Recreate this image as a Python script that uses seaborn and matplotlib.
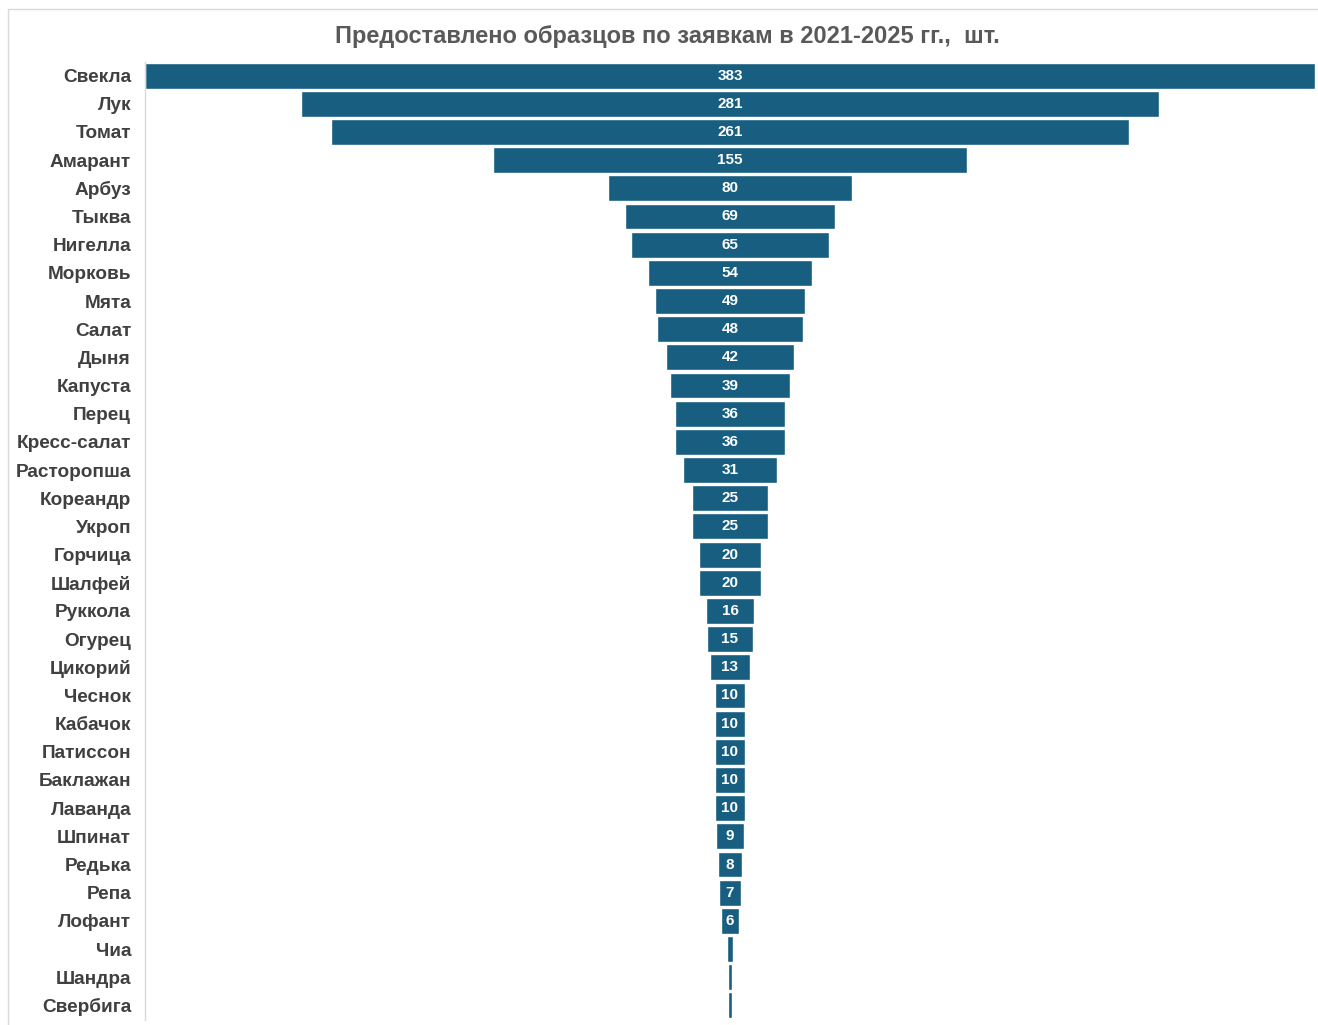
import matplotlib
matplotlib.use("Agg")
import matplotlib.pyplot as plt
import seaborn as sns
import pandas as pd
from matplotlib.patches import Rectangle

categories = ["Свекла", "Лук", "Томат", "Амарант", "Арбуз", "Тыква", "Нигелла", "Морковь",
              "Мята", "Салат", "Дыня", "Капуста", "Перец", "Кресс-салат", "Расторопша",
              "Кореандр", "Укроп", "Горчица", "Шалфей", "Руккола", "Огурец", "Цикорий",
              "Чеснок", "Кабачок", "Патиссон", "Баклажан", "Лаванда", "Шпинат", "Редька",
              "Репа", "Лофант", "Чиа", "Шандра", "Свербига"]
values = [383, 281, 261, 155, 80, 69, 65, 54, 49, 48, 42, 39, 36, 36, 31, 25, 25, 20, 20,
          16, 15, 13, 10, 10, 10, 10, 10, 9, 8, 7, 6, 2, 1, 1]
show_label = [True] * 31 + [False, False, False]

title = "Предоставлено образцов по заявкам в 2021-2025 гг.,  шт."

sns.set_theme(style="white")
plt.rcParams["font.family"] = ["Liberation Sans", "DejaVu Sans"]

df = pd.DataFrame({"cat": categories, "val": values})

fig = plt.figure(figsize=(13.18, 10.25), dpi=100)
n = len(categories)
top = 1 - 61.5 / 1025
bottom = 1 - 1019.5 / 1025
ax = fig.add_axes([145 / 1318, bottom, (1315 - 145) / 1318, top - bottom])

bar_color = "#175E80"
sns.barplot(data=df, x="val", y="cat", orient="h", color=bar_color, saturation=1,
            width=0.92, edgecolor="white", linewidth=1.0, ax=ax)

# center bars to make funnel
for p in ax.patches:
    w = p.get_width()
    p.set_x(-w / 2)

vmax = max(values)
ax.set_xlim(-vmax / 2, vmax / 2)
ax.set_ylim(n - 0.5, -0.5)

for i, (v, s) in enumerate(zip(values, show_label)):
    if s:
        ax.text(0, i, str(v), ha="center", va="center", color="white",
                fontsize=11, fontweight="bold")

ax.set_xlabel("")
ax.set_ylabel("")
ax.set_xticks([])
ax.tick_params(axis="y", length=0, pad=10, labelsize=13.7, labelcolor="#404040")
for lbl in ax.get_yticklabels():
    lbl.set_fontweight("bold")
for sp in ["top", "right", "bottom"]:
    ax.spines[sp].set_visible(False)
ax.spines["left"].set_color("#D9D9D9")
ax.spines["left"].set_linewidth(1.0)

fig.text(667 / 1318, 1 - 36 / 1025, title, ha="center", va="center",
         fontsize=17, fontweight="bold", color="#595959")

fig.patches.append(Rectangle((8 / 1318, -0.01), 1.02, 1 - 9 / 1025 + 0.01,
                             transform=fig.transFigure, fill=False,
                             edgecolor="#D9D9D9", linewidth=1.0, zorder=-1))

fig.savefig("out.png", dpi=100, facecolor="white")
